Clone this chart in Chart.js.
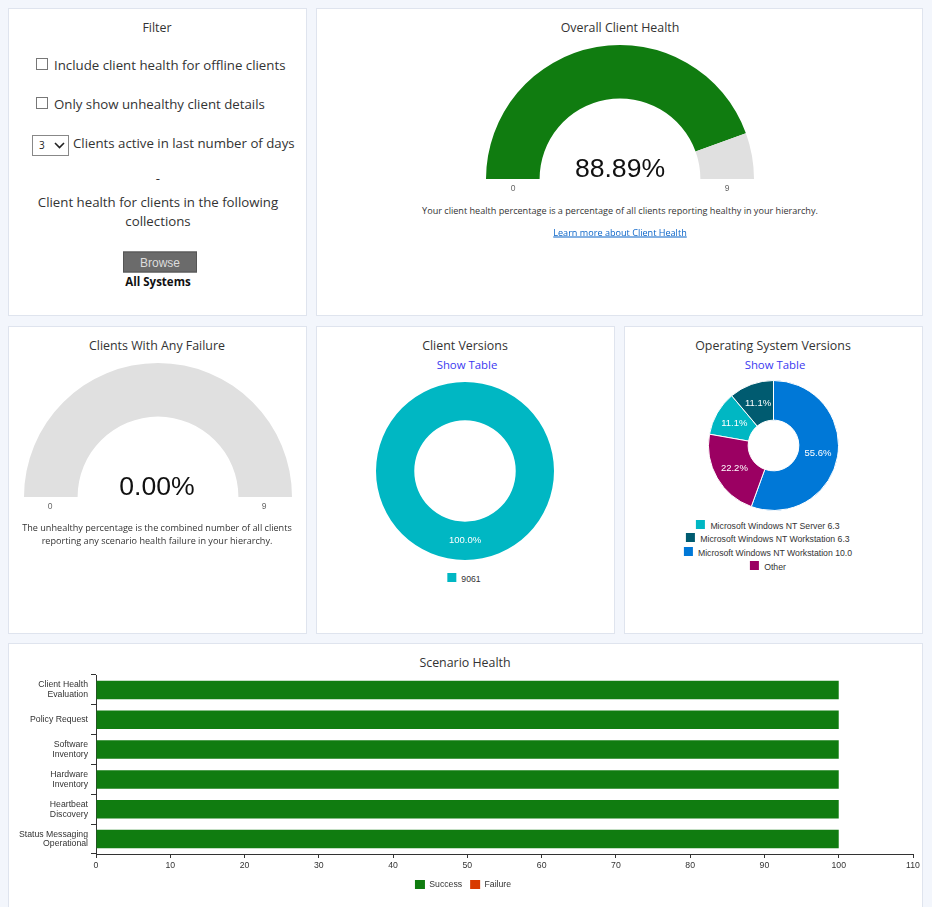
<!DOCTYPE html>
<html><head><meta charset="utf-8">
<script src="https://cdn.jsdelivr.net/npm/chart.js@4/dist/chart.umd.js"></script>
<style>
html,body{margin:0;padding:0;background:#f3f6fc;width:932px;height:907px;overflow:hidden}
body{position:relative;font-family:"Open Sans",sans-serif;color:#222}
.p{position:absolute;background:#fff;border:1px solid #dfe4ee;box-sizing:border-box}
.t{position:absolute;transform:translate(-50%,-50%);white-space:nowrap;text-align:center}
.l{position:absolute;transform:translateY(-50%);white-space:nowrap}
.title{font-size:12.4px;color:#333}
.f{font-size:13.25px;color:#333}
.d{font-size:9.1px;color:#333}
.a{font-family:"Liberation Sans",Arial,sans-serif}
.n{font-family:"Liberation Sans",Arial,sans-serif;font-size:26.6px;color:#111}
.m{font-family:"Liberation Sans",Arial,sans-serif;font-size:8.5px;color:#666}
.s{font-size:11.4px;color:#3a3af0}
canvas{position:absolute;display:block}
.cb{position:absolute;width:10px;height:10px;border:1px solid #777;background:#fff}
.sel{position:absolute;left:32px;top:135px;width:35px;height:19px;border:1px solid #888;background:#fff;font-size:10px;line-height:19px;box-sizing:content-box}
.lg{position:absolute;display:flex;flex-direction:column;align-items:center;transform:translateX(-50%);font:8.7px "Liberation Sans",Arial,sans-serif;color:#333;white-space:nowrap}
.lg div{display:flex;align-items:center;height:13.6px}
.lg i{display:inline-block;width:9px;height:9px;margin-right:5px;position:relative;top:-1.5px}
</style></head><body>

<div class="p" style="left:8px;top:8px;width:299px;height:308px"></div>
<div class="p" style="left:316px;top:8px;width:607px;height:308px"></div>
<div class="p" style="left:8px;top:326px;width:299px;height:308px"></div>
<div class="p" style="left:316px;top:326px;width:299px;height:308px"></div>
<div class="p" style="left:624px;top:326px;width:299px;height:308px"></div>
<div class="p" style="left:8px;top:643px;width:915px;height:270px"></div>

<div class="t title" style="left:157px;top:26.5px">Filter</div>
<div class="cb" style="left:36px;top:58px"></div>
<div class="l f" style="left:54px;top:64.5px">Include client health for offline clients</div>
<div class="cb" style="left:36px;top:97px"></div>
<div class="l f" style="left:54px;top:103.5px">Only show unhealthy client details</div>
<div class="sel"><span style="position:absolute;left:6px;top:0">3</span>
<svg style="position:absolute;left:21px;top:6px" width="11" height="7"><path d="M1 1 L5.5 5.5 L10 1" fill="none" stroke="#222" stroke-width="1.6"/></svg></div>
<div class="l f" style="left:73px;top:142.5px">Clients active in last number of days</div>
<div class="t f" style="left:158px;top:177.5px">-</div>
<div class="t f" style="left:158px;top:202px">Client health for clients in the following</div>
<div class="t f" style="left:158px;top:220.5px">collections</div>
<div class="t a" style="left:160px;top:262px;width:74px;height:21px;line-height:21px;background:#6b6b6b;border:1px solid #555;box-sizing:border-box;color:#ddd;font-size:12px">Browse</div>
<div class="t a" style="left:158px;top:281px;font-size:11.5px;font-weight:bold;color:#111;font-family:'Open Sans'">All Systems</div>

<div class="t title" style="left:620px;top:26.5px">Overall Client Health</div>
<canvas id="g1" style="left:486px;top:45px"></canvas>
<div class="t n" style="left:620px;top:168px">88.89%</div>
<div class="t m" style="left:513px;top:188px">0</div>
<div class="t m" style="left:727px;top:188px">9</div>
<div class="t d" style="left:620px;top:209.5px">Your client health percentage is a percentage of all clients reporting healthy in your hierarchy.</div>
<div class="t d" style="left:620px;top:231.5px;color:#0a64c8;text-decoration:underline">Learn more about Client Health</div>

<div class="t title" style="left:157px;top:344.5px">Clients With Any Failure</div>
<canvas id="g2" style="left:24px;top:363px"></canvas>
<div class="t n" style="left:157px;top:486px">0.00%</div>
<div class="t m" style="left:50px;top:506px">0</div>
<div class="t m" style="left:264px;top:506px">9</div>
<div class="t d" style="left:157px;top:526.5px">The unhealthy percentage is the combined number of all clients</div>
<div class="t d" style="left:157px;top:540px">reporting any scenario health failure in your hierarchy.</div>

<div class="t title" style="left:465px;top:344.5px">Client Versions</div>
<div class="t s" style="left:467px;top:363.5px">Show Table</div>
<canvas id="cv" style="left:376px;top:382px"></canvas>
<div class="lg" id="cvL" style="left:464px;top:572px"></div>

<div class="t title" style="left:773px;top:344.5px">Operating System Versions</div>
<div class="t s" style="left:775px;top:363.5px">Show Table</div>
<canvas id="os" style="left:707.5px;top:379.5px"></canvas>
<div class="lg" id="osL" style="left:768px;top:519px"></div>

<div class="t title" style="left:465px;top:661.5px">Scenario Health</div>
<canvas id="sh" style="left:13px;top:644px"></canvas>

<script>
const GREEN = '#107c10', GREY = '#e0e0e0', ORANGE = '#d83b01';

const overallLabels = ['Healthy', 'Unhealthy'];
const overallValues = [8, 1];
const failureLabels = ['Failure', 'No failure'];
const failureValues = [0, 9];

const versionLabels = ['9061'];
const versionValues = [9];
const versionColors = ['#00b7c3'];

const osLabels = ['Microsoft Windows NT Server 6.3', 'Microsoft Windows NT Workstation 6.3', 'Microsoft Windows NT Workstation 10.0', 'Other'];
const osValues = [1, 1, 5, 2];
const osColors = ['#00b7c3', '#005b70', '#0078d7', '#9b0062'];

const scenarioLabels = [['Client Health', 'Evaluation'], 'Policy Request', ['Software', 'Inventory'], ['Hardware', 'Inventory'], ['Heartbeat', 'Discovery'], ['Status Messaging', 'Operational']];
const successValues = [100, 100, 100, 100, 100, 100];
const failureScenario = [0, 0, 0, 0, 0, 0];

const pctLabels = {
  id: 'pctLabels',
  afterDatasetsDraw(c) {
    const ds = c.data.datasets[0], tot = ds.data.reduce((a, b) => a + b, 0);
    const ctx = c.ctx; ctx.save();
    ctx.font = '9.5px "Liberation Sans",Arial,sans-serif';
    ctx.fillStyle = '#fff'; ctx.textAlign = 'center'; ctx.textBaseline = 'middle';
    c.getDatasetMeta(0).data.forEach((arc, i) => {
      const p = arc.tooltipPosition();
      ctx.fillText((ds.data[i] / tot * 100).toFixed(1) + '%', p.x, p.y);
    });
    ctx.restore();
  }
};

function size(id, w, h) { const e = document.getElementById(id); e.width = w; e.height = h; e.style.width = w + 'px'; e.style.height = h + 'px'; return e; }

function gauge(id, labels, data, colors) {
  new Chart(size(id, 268, 134), {
    type: 'doughnut',
    data: { labels, datasets: [{ data, backgroundColor: colors, borderWidth: 0, hoverOffset: 0 }] },
    options: { responsive: false, animation: false, rotation: -90, circumference: 180, cutout: '60%',
      plugins: { legend: { display: false }, tooltip: { enabled: false } } }
  });
}
gauge('g1', overallLabels, overallValues, [GREEN, GREY]);
gauge('g2', failureLabels, failureValues, [ORANGE, GREY]);

function donut(id, w, labels, data, colors, cut, rot, bw) {
  new Chart(size(id, w, w), {
    type: 'doughnut',
    data: { labels, datasets: [{ data, backgroundColor: colors, borderColor: '#fff', borderWidth: bw, hoverOffset: 0 }] },
    options: { responsive: false, animation: false, rotation: rot, cutout: cut,
      plugins: { legend: { display: false }, tooltip: { enabled: false } } },
    plugins: [pctLabels]
  });
}
donut('cv', 178, versionLabels, versionValues, versionColors, '57%', 0, 0);
donut('os', 131, osLabels, osValues, osColors, '39%', -80, 1);

function htmlLegend(id, labels, colors) {
  const el = document.getElementById(id);
  labels.forEach((t, i) => {
    const r = document.createElement('div'), b = document.createElement('i'), s = document.createElement('span');
    b.style.background = colors[i]; s.textContent = t;
    r.append(b, s); el.append(r);
  });
}
htmlLegend('cvL', versionLabels, versionColors);
htmlLegend('osL', osLabels, osColors);

const tickFont = { family: '"Liberation Sans",Arial,sans-serif', size: 8.7, lineHeight: 1.12 };
new Chart(size('sh', 918, 255), {
  type: 'bar',
  data: { labels: scenarioLabels, datasets: [
    { label: 'Success', data: successValues, backgroundColor: GREEN, categoryPercentage: 1, barPercentage: 0.62 },
    { label: 'Failure', data: failureScenario, backgroundColor: ORANGE, categoryPercentage: 1, barPercentage: 0.62 }
  ] },
  options: {
    indexAxis: 'y', responsive: false, animation: false,
    layout: { padding: { top: 31, right: 18, left: 0, bottom: 0 } },
    scales: {
      x: { stacked: true, min: 0, max: 110,
        grid: { drawOnChartArea: false, color: '#333', tickLength: 4 },
        border: { color: '#333', width: 1 },
        ticks: { stepSize: 10, font: tickFont, color: '#333', padding: 3, maxRotation: 0 },
        afterFit(s) { s.height = 18; } },
      y: { stacked: true,
        grid: { drawOnChartArea: false, offset: true, color: '#333', tickLength: 5 },
        border: { color: '#333', width: 1 },
        ticks: { font: tickFont, color: '#333', padding: 3, autoSkip: false },
        afterFit(s) { s.width = 83; } }
    },
    plugins: {
      tooltip: { enabled: false },
      legend: { position: 'bottom', labels: { boxWidth: 10, boxHeight: 9, padding: 8, color: '#333', font: tickFont } }
    }
  }
});
</script>
</body></html>
